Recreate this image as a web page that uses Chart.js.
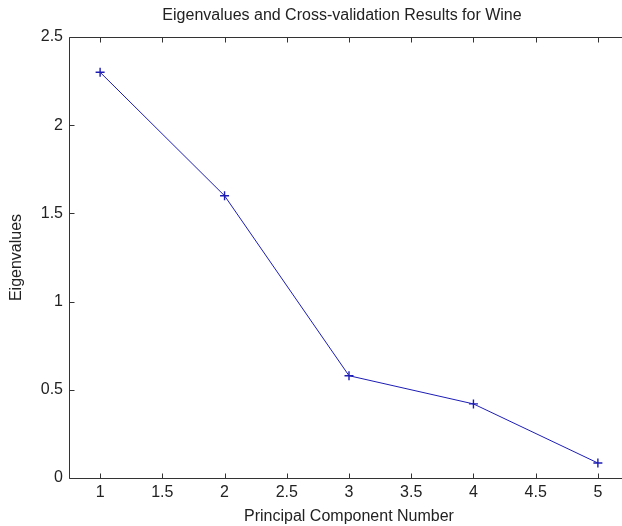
<!DOCTYPE html>
<html>
<head>
<meta charset="utf-8">
<title>Eigenvalues and Cross-validation Results for Wine</title>
<script src="https://cdn.jsdelivr.net/npm/chart.js@4"></script>
<style>
  html, body { margin: 0; padding: 0; background: #fff; overflow: hidden; }
  #wrap { width: 622px; height: 526px; overflow: hidden; position: relative; }
  #chart { position: absolute; left: 0; top: 0; }
</style>
</head>
<body>
<div id="wrap"><canvas id="chart" width="640" height="526"></canvas></div>
<script>
const components = [1, 2, 3, 4, 5];
const eigenvalues = [2.30, 1.60, 0.58, 0.42, 0.085];
const xTicks = [1, 1.5, 2, 2.5, 3, 3.5, 4, 4.5, 5];
const yTicks = [0, 0.5, 1, 1.5, 2, 2.5];

const titleText = 'Eigenvalues and Cross-validation Results for Wine';
const ink = '#222';
const font = { family: '"Liberation Sans", Arial, sans-serif', size: 16 };

// matlab-like frame: top, left and bottom edges with short inward tick marks
// (the right edge of the axes runs past the visible page)
const axesBox = {
  id: 'axesBox',
  afterDraw(chart) {
    const { ctx, chartArea: a, scales } = chart;
    const len = 5;
    const top = a.top + 0.5;
    const left = a.left + 0.5;
    const bottom = a.bottom + 0.5;
    ctx.save();
    ctx.strokeStyle = '#333';
    ctx.lineWidth = 1;
    ctx.beginPath();
    ctx.moveTo(a.right, top);
    ctx.lineTo(left, top);
    ctx.lineTo(left, bottom);
    ctx.lineTo(a.right, bottom);
    xTicks.forEach((v) => {
      const px = Math.round(scales.x.getPixelForValue(v)) + 0.5;
      ctx.moveTo(px, bottom);
      ctx.lineTo(px, bottom - len);
      ctx.moveTo(px, top);
      ctx.lineTo(px, top + len);
    });
    yTicks.forEach((v) => {
      const py = Math.round(scales.y.getPixelForValue(v)) + 0.5;
      ctx.moveTo(left, py);
      ctx.lineTo(left + len, py);
    });
    ctx.stroke();

    ctx.fillStyle = ink;
    ctx.font = `${font.size}px ${font.family}`;
    ctx.textAlign = 'center';
    ctx.textBaseline = 'middle';
    ctx.fillText(titleText, (a.left + a.right) / 2 - 7, 16);
    ctx.restore();
  }
};

new Chart(document.getElementById('chart'), {
  type: 'line',
  data: {
    datasets: [
      {
        label: 'Eigenvalues',
        data: components.map((c, i) => ({ x: c, y: eigenvalues[i] })),
        borderColor: '#1c1cb4',
        backgroundColor: '#1c1cb4',
        borderWidth: 1,
        pointStyle: 'cross',
        pointRadius: 4.5,
        pointBorderWidth: 1.4,
        tension: 0,
        fill: false
      }
    ]
  },
  options: {
    responsive: false,
    animation: false,
    layout: { padding: { top: 37, right: 11, left: 0, bottom: 0 } },
    plugins: {
      legend: { display: false },
      tooltip: { enabled: false },
      title: { display: false }
    },
    scales: {
      x: {
        type: 'linear',
        min: 0.75,
        max: 5.25,
        grid: { display: false, drawTicks: false },
        border: { display: false },
        afterBuildTicks: (scale) => {
          scale.ticks = xTicks.map((v) => ({ value: v }));
        },
        afterFit: (scale) => { scale.height = 48; },
        ticks: {
          color: ink,
          font: font,
          padding: 5,
          maxRotation: 0,
          autoSkip: false,
          callback: (v) => String(v)
        },
        title: {
          display: true,
          text: 'Principal Component Number',
          color: ink,
          font: font,
          padding: { top: 2, bottom: 0 }
        }
      },
      y: {
        min: 0,
        max: 2.5,
        grid: { display: false, drawTicks: false },
        border: { display: false },
        afterBuildTicks: (scale) => {
          scale.ticks = yTicks.map((v) => ({ value: v }));
        },
        afterFit: (scale) => { scale.width = 69; },
        ticks: {
          color: ink,
          font: font,
          padding: 6,
          callback: (v) => String(v)
        },
        title: {
          display: true,
          text: 'Eigenvalues',
          color: ink,
          font: font,
          padding: { top: 7, bottom: 0 }
        }
      }
    }
  },
  plugins: [axesBox]
});
</script>
</body>
</html>
